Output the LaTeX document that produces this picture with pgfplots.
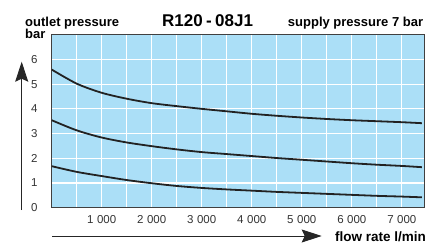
\documentclass[border=0pt]{standalone}
\usepackage{fontspec}
\setmainfont{Liberation Sans}
\usepackage{pgfplots}
\pgfplotsset{compat=1.18}
\usepackage{pgfplotstable}
\usetikzlibrary{arrows.meta}
\definecolor{bgblue}{HTML}{ABDFF7}
\definecolor{tickgray}{HTML}{333333}
\definecolor{curve}{HTML}{222222}

\pgfplotstableread{
x y
0 5.59
500 5.02
1000 4.65
1500 4.41
2000 4.23
2500 4.11
3000 4.00
3500 3.90
4000 3.80
4500 3.72
5000 3.65
5500 3.59
6000 3.54
6500 3.50
7000 3.46
7400 3.42
}\topcurve
\pgfplotstableread{
x y
0 3.54
500 3.13
1000 2.84
1500 2.64
2000 2.49
2500 2.36
3000 2.25
3500 2.17
4000 2.09
4500 2.01
5000 1.94
5500 1.87
6000 1.80
6500 1.74
7000 1.69
7400 1.64
}\midcurve
\pgfplotstableread{
x y
0 1.68
500 1.45
1000 1.28
1500 1.12
2000 0.99
2500 0.88
3000 0.80
3500 0.74
4000 0.69
4500 0.64
5000 0.60
5500 0.56
6000 0.52
6500 0.48
7000 0.45
7400 0.42
}\lowcurve

\begin{document}
\begin{tikzpicture}[x=1bp,y=1bp]
\path[use as bounding box] (0,0) rectangle (437,248);
\begin{axis}[
  at={(51.7bp,40.3bp)}, anchor=south west,
  scale only axis, width=372.6bp, height=173bp,
  xmin=0, xmax=7450, ymin=0, ymax=7,
  axis background/.style={fill=bgblue},
  xtick={1000,2000,...,7000},
  xticklabels={1\hspace{3.5bp}000,2\hspace{3.5bp}000,3\hspace{3.5bp}000,4\hspace{3.5bp}000,5\hspace{3.5bp}000,6\hspace{3.5bp}000,7\hspace{3.5bp}000},
  minor xtick={500,1500,...,7000},
  ytick={0,1,...,6},
  grid=both,
  major grid style={white, line width=1.1bp},
  minor grid style={white, line width=1.1bp},
  major tick length=0pt, minor tick length=0pt,
  axis line style={draw=black!75, line width=1.3bp},
  /pgf/number format/assume math mode=true,
  tick label style={font=\fontsize{11.5bp}{13bp}\selectfont, text=tickgray},
  yticklabel style={xshift=-10.7bp},
  xticklabel style={yshift=-4.5bp},
]
\addplot[curve, line width=1.8bp, smooth] table[x=x,y=y] {\topcurve};
\addplot[curve, line width=1.8bp, smooth] table[x=x,y=y] {\midcurve};
\addplot[curve, line width=1.8bp, smooth] table[x=x,y=y] {\lowcurve};
\end{axis}
\draw[black!85, line width=0.9bp, -{Stealth[length=20bp,width=13bp,inset=3bp]}] (21.7,38) -- (21.7,186.3);
\draw[black!85, line width=0.9bp, -{Stealth[length=20bp,width=13bp,inset=3bp]}] (52,12) -- (321.7,12);
\node[anchor=base west, inner sep=0, font=\bfseries\fontsize{13bp}{15bp}\selectfont] at (25,222) {outlet pressure};
\node[anchor=base west, inner sep=0, font=\bfseries\fontsize{13bp}{15bp}\selectfont] at (25,209.7) {bar};
\node[anchor=base, inner sep=0, font=\bfseries\fontsize{17bp}{19bp}\selectfont] at (207.6,221.3) {R120\hspace{0.2em}-\hspace{0.2em}08J1};
\node[anchor=base east, inner sep=0, font=\bfseries\fontsize{13bp}{15bp}\selectfont] at (423.3,221.3) {supply pressure 7 bar};
\node[anchor=base west, inner sep=0, font=\bfseries\fontsize{13.5bp}{15bp}\selectfont] at (335,7) {flow rate l/min};
\end{tikzpicture}
\end{document}
